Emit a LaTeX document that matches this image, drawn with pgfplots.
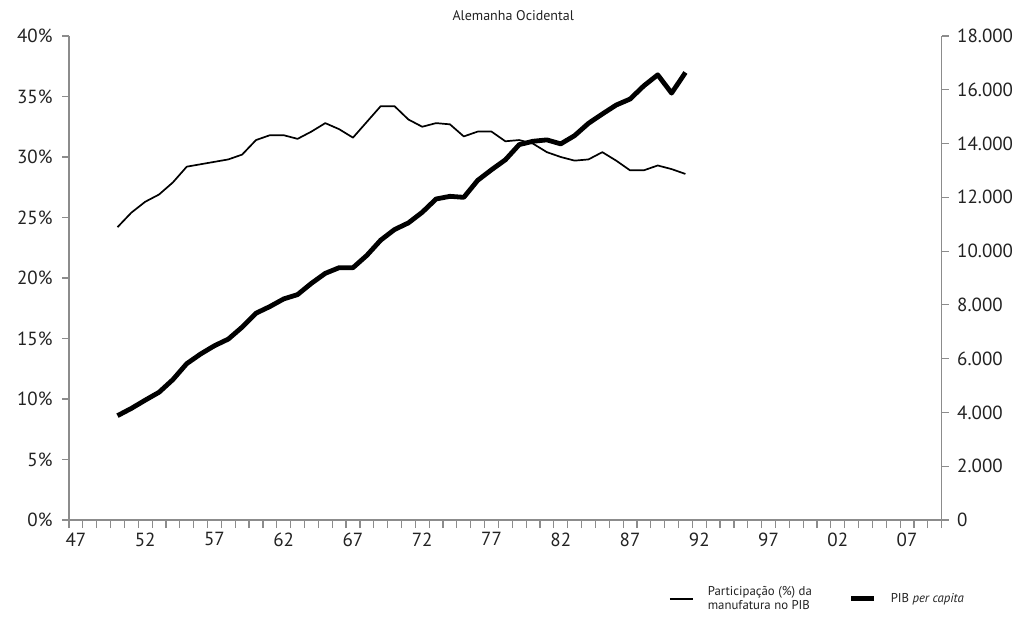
\documentclass[border=0pt]{standalone}
\usepackage{fontspec}
\setmainfont{PT Sans}
\usepackage{pgfplots}
\usepackage{pgfplotstable}
\pgfplotsset{compat=1.18}
\definecolor{axgray}{HTML}{8C8C8C}
\definecolor{txtgray}{HTML}{222222}

\pgfplotstableread{
year share
1950 24.2
1951 25.4
1952 26.3
1953 26.9
1954 27.9
1955 29.2
1956 29.4
1957 29.6
1958 29.8
1959 30.2
1960 31.4
1961 31.8
1962 31.8
1963 31.5
1964 32.1
1965 32.8
1966 32.3
1967 31.6
1968 32.9
1969 34.2
1970 34.2
1971 33.1
1972 32.5
1973 32.8
1974 32.7
1975 31.7
1976 32.1
1977 32.1
1978 31.3
1979 31.4
1980 31.1
1981 30.4
1982 30.0
1983 29.7
1984 29.8
1985 30.4
1986 29.7
1987 28.9
1988 28.9
1989 29.3
1990 29.0
1991 28.6
}\sharetable

\pgfplotstableread{
year gdp
1950 3880
1951 4150
1952 4456
1953 4750
1954 5222
1955 5815
1956 6173
1957 6481
1958 6728
1959 7173
1960 7691
1961 7938
1962 8222
1963 8383
1964 8802
1965 9173
1966 9383
1967 9383
1968 9840
1969 10407
1970 10802
1971 11049
1972 11444
1973 11938
1974 12037
1975 12000
1976 12630
1977 13025
1978 13395
1979 13960
1980 14085
1981 14136
1982 13988
1983 14296
1984 14752
1985 15099
1986 15432
1987 15654
1988 16148
1989 16556
1990 15876
1991 16642
}\gdptable

\pgfplotsset{
  common/.style={
    scale only axis, width=872.7bp, height=484bp,
    at={(0,0)}, anchor=south west,
    xmin=1946.5, xmax=2009.5,
    clip=false,
    tick align=outside,
    major tick length=7bp,
    minor tick length=8bp,
    tick style={axgray, line width=1.2bp},
    ticklabel style={font=\fontsize{19bp}{22bp}\selectfont, text=txtgray},
  },
}

\begin{document}
\begin{tikzpicture}
\useasboundingbox (-69bp,-99bp) rectangle (954bp,520bp);
\begin{axis}[common,
  axis x line*=bottom, axis y line*=left,
  x axis line style={-, axgray, line width=1.2bp},
  y axis line style={-, axgray, line width=1.2bp},
  ymin=0, ymax=40,
  xtick={1947,1952,1957,1962,1967,1972,1977,1982,1987,1992,1997,2002,2007},
  xticklabels={47,52,57,62,67,72,77,82,87,92,97,02,07},
  major x tick style={draw=none},
  minor xtick={1946.5,1947.5,...,2009.6},
  ytick={0,5,...,40},
  yticklabels={0\%,5\%,10\%,15\%,20\%,25\%,30\%,35\%,40\%},
  yticklabel style={xshift=-6bp},
  xticklabel style={yshift=-2bp},
  title={Alemanha Ocidental},
  title style={font=\fontsize{14bp}{16bp}\selectfont, text=txtgray, at={(0.509,1)}, anchor=south, yshift=6bp},
]
\addplot[black, line width=1.7bp, line join=round] table[x=year, y=share] {\sharetable};
\end{axis}
\begin{axis}[common,
  axis x line=none, axis y line*=right,
  y axis line style={-, axgray, line width=1.2bp},
  ymin=0, ymax=18000,
  scaled y ticks=false,
  ytick={0,2000,...,18000},
  yticklabels={0,2.000,4.000,6.000,8.000,10.000,12.000,14.000,16.000,18.000},
  yticklabel style={xshift=5bp},
  legend columns=2,
  legend style={draw=none, fill=none, at={(0.684,-0.163)}, anchor=west,
    font=\fontsize{12.8bp}{14.5bp}\selectfont, text=txtgray,
    nodes={align=left, inner sep=2bp},
    /tikz/every odd column/.append style={column sep=12bp},
    /tikz/every even column/.append style={column sep=35bp}},
  legend image code/.code={\draw[#1] (0bp,0bp) -- (23bp,0bp);},
]
\addlegendimage{black, line width=1.7bp}
\addlegendentry{Participação (\%) da\\manufatura no PIB}
\addplot[black, line width=4.8bp, line join=round] table[x=year, y=gdp] {\gdptable};
\addlegendentry{PIB \textit{per capita}}
\end{axis}
\end{tikzpicture}
\end{document}
